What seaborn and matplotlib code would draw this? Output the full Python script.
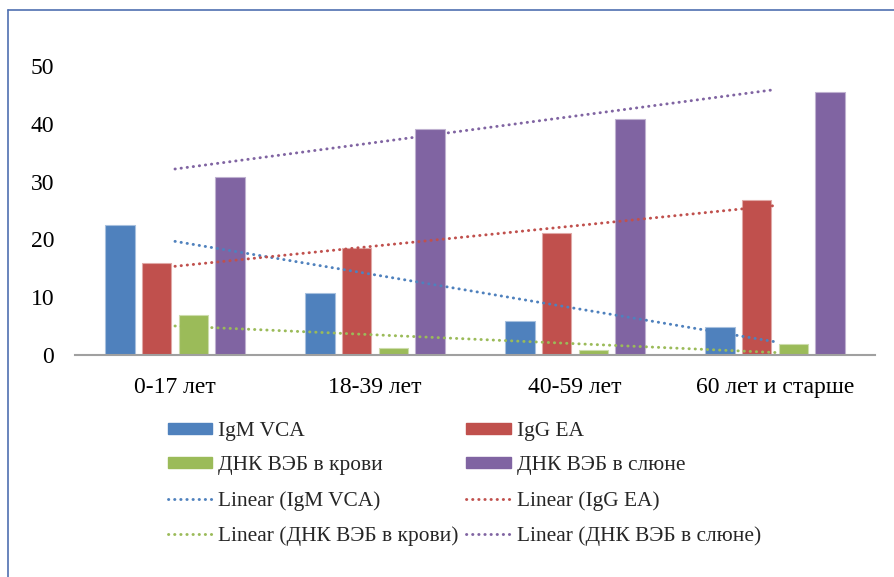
import numpy as np
import pandas as pd
import matplotlib
matplotlib.use("Agg")
import matplotlib.pyplot as plt
from matplotlib.patches import Patch
from matplotlib.lines import Line2D
import seaborn as sns

# Age groups and series values (%)
categories = ["0-17 лет", "18-39 лет", "40-59 лет", "60 лет и старше"]
series_names = ["IgM VCA", "IgG EA", "ДНК ВЭБ в крови", "ДНК ВЭБ в слюне"]
igm_vca = [22.5, 10.7, 5.9, 4.8]
igg_ea = [16.0, 18.5, 21.1, 26.8]
dna_blood = [6.9, 1.2, 0.9, 1.9]
dna_saliva = [30.8, 39.1, 40.8, 45.5]
y_ticks = [0, 10, 20, 30, 40, 50]

colors = ["#4F81BD", "#C0504D", "#9BBB59", "#8064A2"]
edge_colors = ["#A7C0DE", "#E0A8A6", "#CDDDAC", "#BFB1D0"]

values = [igm_vca, igg_ea, dna_blood, dna_saliva]
df = pd.DataFrame({
    "group": [c for s in values for c in categories],
    "series": [n for n, s in zip(series_names, values) for _ in s],
    "value": [v for s in values for v in s],
})

sns.set_theme(style="white")
plt.rcParams["font.family"] = ["Liberation Serif", "DejaVu Serif"]

fig = plt.figure(figsize=(8.94, 5.77), dpi=100)
ax = fig.add_axes([75 / 894, 1 - 355 / 577, 800 / 894, 289 / 577])

sns.barplot(data=df, x="group", y="value", hue="series", order=categories,
            hue_order=series_names, palette=colors, width=0.733, gap=0.2,
            saturation=1, ax=ax, legend=False)

for cont, ec in zip(ax.containers, edge_colors):
    for bar in cont:
        bar.set_edgecolor(ec)
        bar.set_linewidth(0.8)

# Linear trend lines for each series
xs = np.arange(len(categories))
dot_style = (0, (0.1, 2.0))
for s, c in zip(values, colors):
    k, b = np.polyfit(xs, s, 1)
    ax.plot([xs[0], xs[-1]], [k * xs[0] + b, k * xs[-1] + b], color=c, lw=2.1,
            linestyle=dot_style, dash_capstyle="round", zorder=3)

ax.set_xlim(-0.5, 3.5)
ax.set_ylim(0, 50)
ax.set_yticks(y_ticks)
ax.set_xlabel("")
ax.set_ylabel("")
for side in ["top", "right", "left"]:
    ax.spines[side].set_visible(False)
ax.spines["bottom"].set_color("#A0A0A0")
ax.spines["bottom"].set_linewidth(1.5)
ax.tick_params(axis="both", length=0, labelsize=17, colors="black")
ax.tick_params(axis="y", pad=15)
ax.tick_params(axis="x", pad=15.5)

# Legend: bars then trend lines, two columns
bar_handles = [Patch(facecolor=c, edgecolor=c) for c in colors]
line_handles = [Line2D([0], [0], color=c, lw=2.1, linestyle=dot_style,
                       dash_capstyle="round") for c in colors]
trend_names = [f"Linear ({n})" for n in series_names]
handles = [bar_handles[0], bar_handles[2], line_handles[0], line_handles[2],
           bar_handles[1], bar_handles[3], line_handles[1], line_handles[3]]
labels = [series_names[0], series_names[2], trend_names[0], trend_names[2],
          series_names[1], series_names[3], trend_names[1], trend_names[3]]
fig.legend(handles, labels, ncol=2, loc="upper left",
           bbox_to_anchor=(168 / 894, 1 - 422 / 577), frameon=False,
           fontsize=15.4, handlelength=2.06, handleheight=0.42,
           handletextpad=0.28, columnspacing=0.37, labelspacing=0.72,
           borderaxespad=0, borderpad=0)

# Chart frame
fig.add_artist(Line2D([8 / 894, 8 / 894], [0, 1 - 10 / 577], color="#4F6FB0",
                      lw=1.2, transform=fig.transFigure))
fig.add_artist(Line2D([8 / 894, 1], [1 - 10 / 577, 1 - 10 / 577], color="#4F6FB0",
                      lw=1.2, transform=fig.transFigure))

fig.savefig("out.png", dpi=100)
